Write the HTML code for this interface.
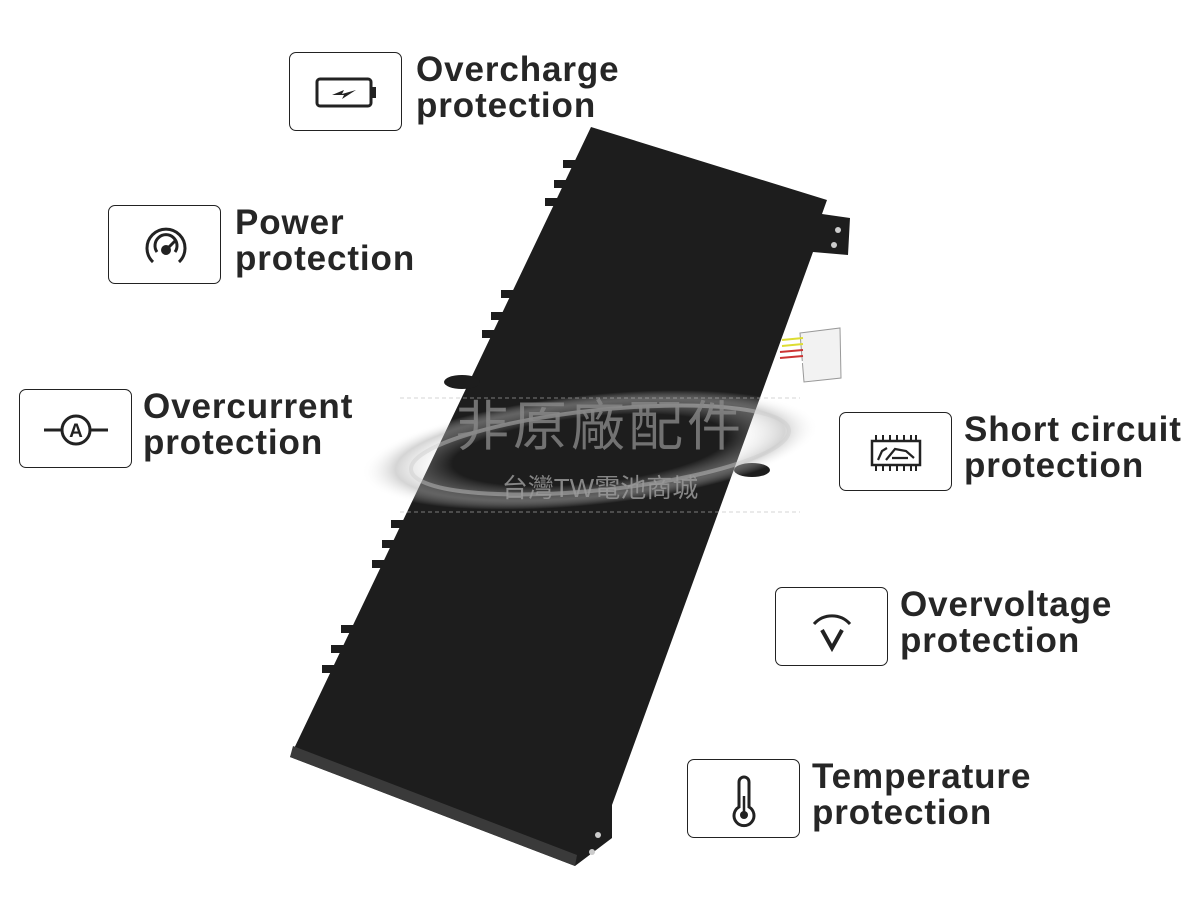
<!DOCTYPE html>
<html><head><meta charset="utf-8"><style>
body{margin:0;width:1200px;height:900px;background:#fff;position:relative;overflow:hidden;font-family:"Liberation Sans",sans-serif}
.box{position:absolute;width:113px;height:79px;border:1.5px solid #222;border-radius:7px;box-sizing:border-box;background:#fff}
.lbl{position:absolute;font-weight:bold;font-size:35px;line-height:36px;color:#262626;letter-spacing:0.9px}
svg{position:absolute;left:0;top:0}
</style></head><body>
<svg width="1200" height="900">
<defs><radialGradient id="sw" cx="0.5" cy="0.5" r="0.5"><stop offset="0.6" stop-color="#fff" stop-opacity="0"/><stop offset="0.85" stop-color="#aaa" stop-opacity="0.5"/><stop offset="1" stop-color="#fff" stop-opacity="0"/></radialGradient></defs>
<polygon points="591,127 827,200 822,214 850,218 848,255 813,252 612,805 612,838 575,866 290,757" fill="#1d1d1d"/>
<polygon points="290,757 575,866 577,855 293,746" fill="#3a3a3a"/>
<g fill="#1d1d1d">
<rect x="563" y="160" width="14" height="8"/><rect x="554" y="180" width="14" height="8"/><rect x="545" y="198" width="14" height="8"/>
<rect x="501" y="290" width="14" height="8"/><rect x="491" y="312" width="14" height="8"/><rect x="482" y="330" width="14" height="8"/>
<ellipse cx="462" cy="382" rx="18" ry="7"/>
<rect x="391" y="520" width="14" height="8"/><rect x="382" y="540" width="14" height="8"/><rect x="372" y="560" width="14" height="8"/>
<rect x="341" y="625" width="14" height="8"/><rect x="331" y="645" width="14" height="8"/><rect x="322" y="665" width="14" height="8"/>
<ellipse cx="752" cy="470" rx="18" ry="7"/>
</g>
<circle cx="838" cy="230" r="3" fill="#ccc"/><circle cx="834" cy="245" r="3" fill="#ccc"/>
<circle cx="598" cy="835" r="3" fill="#ccc"/><circle cx="592" cy="852" r="3" fill="#ccc"/>
<path d="M800 333 L840 328 L841 378 L804 382 Z" fill="#f2f2f2" stroke="#999"/>
<path d="M782 340 L803 338 M782 346 L803 344" stroke="#dd3" stroke-width="2"/>
<path d="M780 352 L803 350 M780 358 L803 356" stroke="#c33" stroke-width="2"/>
<path d="M778 364 L803 362" stroke="#fff" stroke-width="2"/>
<ellipse cx="590" cy="450" rx="230" ry="55" fill="url(#sw)" transform="rotate(-6 590 450)"/>
<ellipse cx="600" cy="450" rx="190" ry="40" fill="none" stroke="#ccc" stroke-width="4" opacity="0.45" transform="rotate(-6 600 450)"/>
<text x="600" y="445" font-family="Noto Sans CJK TC,sans-serif" font-size="54" fill="#888" fill-opacity="0.8" text-anchor="middle" letter-spacing="4">非原廠配件</text>
<text x="600" y="497" font-family="Liberation Sans,Noto Sans CJK TC,sans-serif" font-size="26" fill="#999" fill-opacity="0.85" text-anchor="middle">台灣TW電池商城</text>
<line x1="400" y1="398" x2="800" y2="398" stroke="#bbb" stroke-dasharray="4 3" opacity="0.6"/>
<line x1="400" y1="512" x2="800" y2="512" stroke="#bbb" stroke-dasharray="4 3" opacity="0.6"/>
</svg>

<div class="box" style="left:289px;top:52px"><svg width="113" height="79"><rect x="27" y="26" width="54" height="27" rx="3" fill="none" stroke="#222" stroke-width="3"/><rect x="82" y="34" width="4" height="11" fill="#222"/><path d="M42 42 L54 37 L52 41 L66 37 L52 46 L54 42 Z" fill="#222"/></svg></div>
<div class="lbl" style="left:416px;top:52px">Overcharge<br>protection</div>

<div class="box" style="left:108px;top:205px"><svg width="113" height="79"><path d="M44 56 A19 19 0 1 1 70 56" fill="none" stroke="#222" stroke-width="3"/><path d="M48 46 A11 11 0 1 1 66 46" fill="none" stroke="#222" stroke-width="3"/><circle cx="57" cy="44" r="5" fill="#222"/><path d="M57 44 L66 35" stroke="#222" stroke-width="3"/></svg></div>
<div class="lbl" style="left:235px;top:205px">Power<br>protection</div>

<div class="box" style="left:19px;top:389px"><svg width="113" height="79"><circle cx="56" cy="40" r="14" fill="none" stroke="#222" stroke-width="3"/><path d="M24 40 H42 M70 40 H88" stroke="#222" stroke-width="3"/><text x="56" y="47" font-size="19" font-weight="bold" text-anchor="middle" fill="#222" font-family="Liberation Sans,sans-serif">A</text></svg></div>
<div class="lbl" style="left:143px;top:389px">Overcurrent<br>protection</div>

<div class="box" style="left:839px;top:412px"><svg width="113" height="79"><rect x="32" y="28" width="48" height="24" fill="none" stroke="#222" stroke-width="2.5"/><path d="M36 22v6M43 22v6M50 22v6M57 22v6M64 22v6M71 22v6M76 22v6M36 52v6M43 52v6M50 52v6M57 52v6M64 52v6M71 52v6M76 52v6" stroke="#222" stroke-width="2"/><path d="M38 47 L42 38 L47 35 M46 47 L55 36 L66 38 L74 45 M52 45 L68 45" fill="none" stroke="#222" stroke-width="2.2"/></svg></div>
<div class="lbl" style="left:964px;top:412px">Short circuit<br>protection</div>

<div class="box" style="left:775px;top:587px"><svg width="113" height="79"><path d="M38 36 A24 24 0 0 1 74 36" fill="none" stroke="#222" stroke-width="3"/><path d="M46 42 L56 60 L66 42" fill="none" stroke="#222" stroke-width="4"/></svg></div>
<div class="lbl" style="left:900px;top:587px">Overvoltage<br>protection</div>

<div class="box" style="left:687px;top:759px"><svg width="113" height="79"><path d="M51 47 V22 A5 5 0 0 1 61 22 V47 A10 10 0 1 1 51 47 Z" fill="none" stroke="#222" stroke-width="3"/><circle cx="56" cy="55" r="4" fill="#222"/><path d="M56 36 V52" stroke="#222" stroke-width="2.5"/></svg></div>
<div class="lbl" style="left:812px;top:759px">Temperature<br>protection</div>
</body></html>
